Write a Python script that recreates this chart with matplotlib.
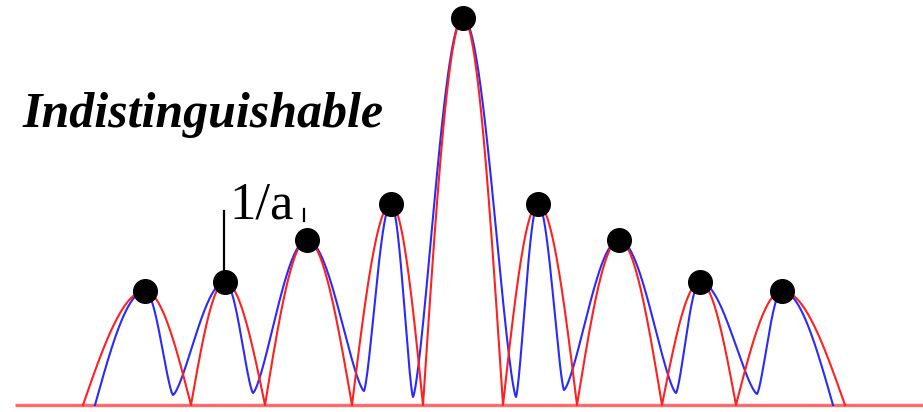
import numpy as np
import matplotlib
matplotlib.use("Agg")
import matplotlib.pyplot as plt

# ---- data (x in px-like units, heights above the baseline) ----
peak_x = [145, 225, 307, 391, 463, 538, 619, 700, 782]
peak_h = [114, 123, 165, 201, 387, 201, 165, 123, 114]

red_zero_x = [83, 191, 265, 352, 423, 503, 577, 662, 736, 845]

blue_start_x = 95
blue_end_x = 833
blue_min_x = [173, 253, 364, 413, 516, 564, 676, 757]
blue_min_h = [10, 12, 14, 8, 8, 15, 12, 11]

label_main = "Indistinguishable"
label_sep = "1/a"

SHAPE_P = 0.7


def red_curve():
    xs, ys = [], []
    for i in range(len(peak_x)):
        z0, z1, p, h = red_zero_x[i], red_zero_x[i + 1], peak_x[i], peak_h[i]
        t = np.linspace(0, 1, 60)
        xl = z0 + (p - z0) * t
        yl = h * np.sin(np.pi / 2 * t)
        xr = p + (z1 - p) * t
        yr = h * np.cos(np.pi / 2 * t)
        xs += list(xl) + list(xr)
        ys += list(yl) + list(yr)
    return np.array(xs), np.array(ys)


def fall(t):
    return ((1 + np.cos(np.pi * t)) / 2) ** SHAPE_P


def blue_curve():
    xs, ys = [], []
    t = np.linspace(0, 1, 80)
    xs += list(blue_start_x + (peak_x[0] - blue_start_x) * t)
    ys += list(peak_h[0] * np.sin(np.pi / 2 * t))
    for i in range(len(blue_min_x)):
        p0, h0 = peak_x[i], peak_h[i]
        m, mh = blue_min_x[i], blue_min_h[i]
        p1, h1 = peak_x[i + 1], peak_h[i + 1]
        xs += list(p0 + (m - p0) * t)
        ys += list(mh + (h0 - mh) * fall(t))
        xs += list(m + (p1 - m) * t)
        ys += list(mh + (h1 - mh) * fall(1 - t))
    xs += list(peak_x[-1] + (blue_end_x - peak_x[-1]) * t)
    ys += list(peak_h[-1] * np.cos(np.pi / 2 * t))
    return np.array(xs), np.array(ys)


fig = plt.figure(figsize=(9.23, 4.12), dpi=100)
ax = fig.add_axes([0, 0, 1, 1])
ax.set_xlim(0, 923)
ax.set_ylim(-7, 405)
ax.axis("off")

ax.plot([15, 923], [0, 0], color="#ff6a6a", lw=2.4, solid_capstyle="butt", zorder=1)

bx, by = blue_curve()
ax.plot(bx, by, color="#2a2aff", lw=1.5, zorder=2)
rx, ry = red_curve()
ax.plot(rx, ry, color="#ff2020", lw=1.5, zorder=3)

ax.plot(peak_x, peak_h, "o", color="black", ms=17, zorder=5)

ax.plot([224, 224], [194, 128], color="black", lw=1.6, zorder=4)
ax.plot([304, 304], [196, 184], color="black", lw=1.6, zorder=4)

ax.text(229, 187, label_sep, family="Liberation Serif", fontsize=38,
        ha="left", va="baseline")
ax.text(22, 278, label_main, family="Liberation Serif", fontsize=36,
        fontweight="bold", fontstyle="italic", ha="left", va="baseline")

fig.savefig("out.png", dpi=100)
